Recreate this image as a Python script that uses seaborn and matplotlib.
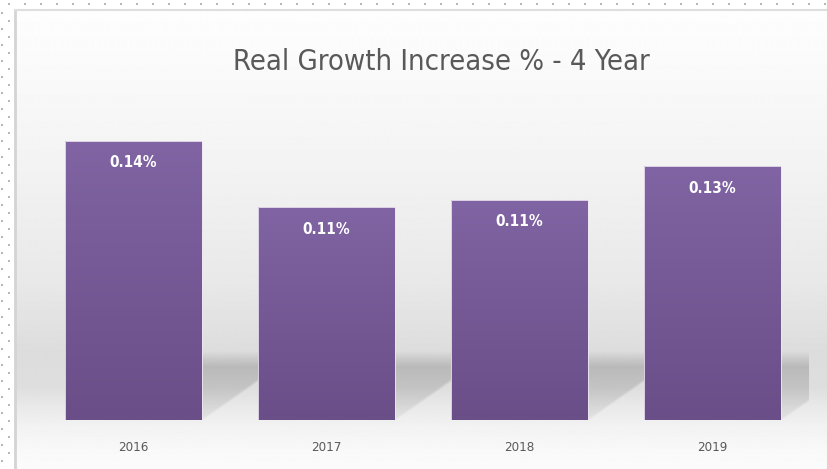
import numpy as np
import pandas as pd
import matplotlib
matplotlib.use("Agg")
import matplotlib.pyplot as plt
from matplotlib.colors import to_rgb
import seaborn as sns

# Chart data
years = ["2016", "2017", "2018", "2019"]
growth_pct = [0.143, 0.109, 0.113, 0.130]
chart_title = "Real Growth Increase % - 4 Year"

sns.set_theme(style="white")
plt.rcParams["font.family"] = ["DejaVu Sans"]
plt.rcParams["font.stretch"] = "condensed"

W, H = 827, 469
DPI = 100
fig = plt.figure(figsize=(W / DPI, H / DPI), dpi=DPI)

# ---- background layer (pixel coordinates, y measured from top) ----
bg = fig.add_axes([0, 0, 1, 1], zorder=0)
bg.set_xlim(0, W)
bg.set_ylim(H, 0)
bg.axis("off")

frame_x, frame_y = 15, 10
stops_y = [0, 40, 150, 280, 350, 385, 405, 425, 450, H]
stops_v = [0.995, 0.985, 0.955, 0.91, 0.865, 0.87, 0.915, 0.95, 0.975, 0.985]
rows = np.arange(H)
shade = np.interp(rows, stops_y, stops_v)
grad = np.repeat(shade[:, None], 2, axis=1)
bg.imshow(grad, cmap="gray", vmin=0, vmax=1, aspect="auto",
          extent=(frame_x, W, H, frame_y), interpolation="bilinear", zorder=0)

# frame border lines
bg.plot([frame_x, frame_x], [frame_y, H], color="#d4d4d4", lw=2.0, zorder=1)
bg.plot([frame_x, W], [frame_y, frame_y], color="#dedede", lw=1.5, zorder=1)

# dotted guide marks around the frame
top_dots_x = np.arange(9, W, 16)
bg.scatter(top_dots_x, np.full_like(top_dots_x, 4.5), s=1.2, color="#b8b8b8",
           marker="s", linewidths=0, zorder=1)
left_dots_y = np.arange(13, H, 8)
left_dots_x = np.where((np.arange(len(left_dots_y)) % 2) == 0, 1.5, 9.0)
bg.scatter(left_dots_x, left_dots_y, s=1.2, color="#b8b8b8",
           marker="s", linewidths=0, zorder=1)

# ---- main plot area ----
ax_left, ax_right = 37, 808.6
ax_base, ax_top = 420, 108
ax = fig.add_axes([ax_left / W, (H - ax_base) / H,
                   (ax_right - ax_left) / W, (ax_base - ax_top) / H], zorder=2)
ax.patch.set_alpha(0)

df = pd.DataFrame({"year": years, "growth": growth_pct})
sns.barplot(data=df, x="year", y="growth", width=0.71, color="#7a5e9c",
            ax=ax, zorder=3)
YMAX = 0.16
ax.set_ylim(0, YMAX)
ax.set_xlim(-0.5, len(years) - 0.5)

# perspective shadows behind the bars
ax_w_px = int(round(ax_right - ax_left))
ax_h_px = int(round(ax_base - ax_top))
yy, xx = np.mgrid[0:ax_h_px, 0:ax_w_px]
height_px = (ax_h_px - 1 - yy).astype(float)  # height above baseline
shear = 1.43
shadow_h = 60.0
px_per_x = ax_w_px / len(years)
alpha = np.zeros((ax_h_px, ax_w_px))
for p in ax.patches:
    x0 = (p.get_x() + 0.5) * px_per_x
    x1 = (p.get_x() + p.get_width() + 0.5) * px_per_x
    xs = xx - height_px * shear
    edge = np.clip(np.minimum(xs - x0, x1 - xs) / 5.0 + 0.5, 0, 1)
    top_fade = np.clip((shadow_h - height_px) / 16.0 + 0.5, 0, 1)
    rel = np.clip(height_px / shadow_h, 0, 1)
    inten = 0.05 + 0.13 * rel
    alpha = np.maximum(alpha, edge * top_fade * inten)
shadow = np.zeros((ax_h_px, ax_w_px, 4))
shadow[..., 3] = alpha
ax.imshow(shadow, extent=(-0.5, len(years) - 0.5, 0, YMAX),
          aspect="auto", zorder=1, interpolation="bilinear")

# vertical gradient fill for each bar
top_c = np.array(to_rgb("#8064a3"))
bot_c = np.array(to_rgb("#694e88"))
t = np.linspace(0, 1, 256)[:, None]
bar_grad = (top_c * (1 - t) + bot_c * t)[:, None, :]
for p in ax.patches:
    x0, w, h = p.get_x(), p.get_width(), p.get_height()
    im = ax.imshow(bar_grad, extent=(x0, x0 + w, 0, h), aspect="auto",
                   zorder=3.5, interpolation="bilinear")
    im.set_clip_path(p)
    p.set_facecolor("none")
    p.set_edgecolor("#efe6f3")
    p.set_linewidth(0.6)
    p.set_zorder(3.6)
ax.set_ylim(0, YMAX)
ax.set_xlim(-0.5, len(years) - 0.5)

# value labels inside the bar tops
for cont in ax.containers:
    ax.bar_label(cont, labels=[f"{v:.2f}%" for v in growth_pct],
                 label_type="edge", padding=-21, color="white",
                 fontsize=11, fontweight="bold", zorder=5)

ax.set_xlabel("")
ax.set_ylabel("")
ax.set_yticks([])
ax.tick_params(axis="x", length=0, pad=15, labelsize=9.5, labelcolor="#595959")
for s in ax.spines.values():
    s.set_visible(False)

# title, sized to its measured width
title = fig.text(441 / W, 1 - 62 / H, chart_title, ha="center", va="center",
                 color="#595959", fontsize=22)
fig.canvas.draw()
tw = title.get_window_extent().width
title.set_fontsize(22 * 417 / tw)

fig.savefig("out.png", dpi=DPI)
